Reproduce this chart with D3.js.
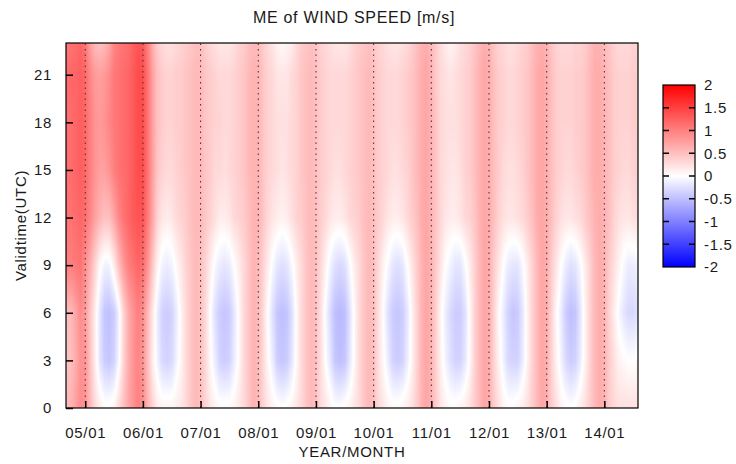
<!DOCTYPE html>
<html lang="en">
<head>
  <meta charset="UTF-8">
  <title>ME of WIND SPEED</title>
  <style>
    body { margin: 0; background: #fff; }
    text { font-family: "Liberation Sans", Arial, sans-serif; font-size: 15px; fill: #1a1a1a; letter-spacing: 0.7px; }
    .frame { fill: none; stroke: #000; stroke-width: 1.2px; }
    .grid { stroke: #333; stroke-width: 1px; stroke-dasharray: 1.5,4; }
    .tickmark { stroke: #000; stroke-width: 1.5px; }
  </style>
</head>
<body>
  <svg id="chart" width="736" height="464"></svg>

  <script src="https://d3js.org/d3.v7.min.js"></script>
  <script>
    // first column is 2004/09, last is 2014/08 (one value per month)
    const startYear = 2004, startMonth = 9;
    const hours = [0, 3, 6, 9, 12, 15, 18, 21, 23];

    // ME [m/s] per month, one array per validtime
    const me00 = [0.55, 0.6, 0.75, 0.9,
      0.85, 0.55, 0.3, 0.15, 0.05, 0.05, 0.1, 0.3, 0.5, 0.7, 0.85, 1.0,
      0.9, 0.6, 0.35, 0.15, 0.1, 0.1, 0.1, 0.15, 0.2, 0.3, 0.45, 0.55,
      0.5, 0.35, 0.2, 0.1, 0.05, 0.05, 0.05, 0.1, 0.2, 0.3, 0.45, 0.6,
      0.55, 0.35, 0.2, 0.1, 0.05, 0.0, 0.05, 0.1, 0.2, 0.3, 0.45, 0.55,
      0.5, 0.3, 0.2, 0.1, 0.0, 0.0, 0.05, 0.1, 0.2, 0.3, 0.45, 0.55,
      0.5, 0.3, 0.2, 0.1, 0.05, 0.05, 0.1, 0.15, 0.25, 0.4, 0.6, 0.7,
      0.6, 0.4, 0.2, 0.1, 0.05, 0.05, 0.1, 0.15, 0.25, 0.4, 0.55, 0.7,
      0.65, 0.4, 0.25, 0.1, 0.05, 0.05, 0.1, 0.15, 0.25, 0.4, 0.55, 0.7,
      0.65, 0.4, 0.25, 0.1, 0.05, 0.0, 0.05, 0.15, 0.25, 0.4, 0.55, 0.65,
      0.6, 0.4, 0.3, 0.25, 0.25, 0.25, 0.25, 0.25];
    const me03 = [0.45, 0.5, 0.65, 0.85,
      0.85, 0.5, 0.15, -0.2, -0.4, -0.45, -0.35, -0.05, 0.35, 0.65, 0.85, 0.95,
      0.85, 0.5, 0.15, -0.1, -0.3, -0.35, -0.3, -0.1, 0.1, 0.3, 0.45, 0.55,
      0.5, 0.3, 0.05, -0.15, -0.35, -0.4, -0.35, -0.15, 0.05, 0.3, 0.45, 0.6,
      0.55, 0.3, 0.05, -0.15, -0.4, -0.45, -0.4, -0.2, 0.05, 0.3, 0.45, 0.55,
      0.5, 0.25, 0.0, -0.2, -0.45, -0.5, -0.45, -0.2, 0.05, 0.3, 0.45, 0.55,
      0.5, 0.25, 0.05, -0.15, -0.35, -0.4, -0.35, -0.15, 0.1, 0.35, 0.6, 0.7,
      0.6, 0.35, 0.1, -0.1, -0.25, -0.35, -0.35, -0.2, 0.05, 0.35, 0.55, 0.7,
      0.65, 0.35, 0.1, -0.1, -0.3, -0.35, -0.35, -0.15, 0.1, 0.35, 0.55, 0.7,
      0.65, 0.35, 0.1, -0.1, -0.3, -0.4, -0.35, -0.15, 0.1, 0.35, 0.55, 0.65,
      0.6, 0.4, 0.25, 0.1, 0.05, 0.0, 0.0, 0.05];
    const me06 = [0.5, 0.55, 0.7, 0.9,
      0.8, 0.45, 0.15, -0.2, -0.45, -0.5, -0.4, -0.1, 0.35, 0.65, 0.85, 1.0,
      0.9, 0.55, 0.2, -0.15, -0.35, -0.4, -0.35, -0.15, 0.1, 0.3, 0.45, 0.55,
      0.5, 0.3, 0.0, -0.25, -0.4, -0.45, -0.4, -0.2, 0.05, 0.3, 0.45, 0.6,
      0.55, 0.3, 0.0, -0.25, -0.45, -0.5, -0.45, -0.25, 0.05, 0.3, 0.45, 0.55,
      0.5, 0.25, -0.05, -0.3, -0.5, -0.55, -0.5, -0.25, 0.05, 0.3, 0.45, 0.55,
      0.5, 0.25, 0.0, -0.25, -0.4, -0.45, -0.4, -0.2, 0.1, 0.35, 0.6, 0.7,
      0.6, 0.35, 0.05, -0.15, -0.3, -0.4, -0.4, -0.25, 0.05, 0.35, 0.55, 0.7,
      0.65, 0.35, 0.05, -0.15, -0.35, -0.45, -0.4, -0.2, 0.1, 0.35, 0.55, 0.7,
      0.65, 0.35, 0.05, -0.15, -0.4, -0.5, -0.45, -0.2, 0.1, 0.35, 0.55, 0.65,
      0.6, 0.35, 0.15, -0.05, -0.2, -0.3, -0.3, -0.25];
    const me09 = [1.0, 1.0, 1.05, 1.1,
      0.9, 0.65, 0.35, 0.05, -0.1, -0.1, 0.15, 0.5, 0.8, 1.0, 1.1, 1.2,
      1.15, 0.85, 0.45, 0.1, -0.1, -0.15, -0.1, 0.05, 0.2, 0.35, 0.45, 0.55,
      0.5, 0.35, 0.15, -0.05, -0.15, -0.2, -0.15, 0.0, 0.15, 0.3, 0.45, 0.6,
      0.55, 0.35, 0.15, -0.05, -0.2, -0.25, -0.2, -0.05, 0.15, 0.3, 0.45, 0.55,
      0.5, 0.3, 0.1, -0.1, -0.25, -0.3, -0.25, -0.05, 0.15, 0.3, 0.45, 0.55,
      0.5, 0.3, 0.1, -0.05, -0.2, -0.25, -0.2, 0.0, 0.2, 0.4, 0.6, 0.7,
      0.6, 0.4, 0.2, 0.0, -0.1, -0.2, -0.2, -0.05, 0.15, 0.35, 0.55, 0.7,
      0.65, 0.4, 0.2, 0.0, -0.15, -0.2, -0.2, -0.05, 0.15, 0.35, 0.55, 0.7,
      0.65, 0.4, 0.2, 0.0, -0.15, -0.25, -0.2, -0.05, 0.15, 0.35, 0.55, 0.65,
      0.6, 0.4, 0.25, 0.1, -0.05, -0.15, -0.15, -0.1];
    const me12 = [1.1, 1.1, 1.15, 1.2,
      1.15, 0.95, 0.75, 0.6, 0.5, 0.5, 0.7, 0.95, 1.1, 1.2, 1.3, 1.35,
      1.35, 1.05, 0.7, 0.35, 0.2, 0.15, 0.2, 0.3, 0.35, 0.4, 0.5, 0.55,
      0.55, 0.45, 0.35, 0.25, 0.15, 0.15, 0.2, 0.3, 0.35, 0.4, 0.5, 0.6,
      0.6, 0.45, 0.3, 0.2, 0.15, 0.1, 0.15, 0.25, 0.35, 0.4, 0.5, 0.55,
      0.5, 0.4, 0.3, 0.2, 0.15, 0.15, 0.2, 0.3, 0.35, 0.4, 0.5, 0.55,
      0.5, 0.4, 0.3, 0.2, 0.15, 0.15, 0.2, 0.3, 0.4, 0.5, 0.65, 0.7,
      0.6, 0.45, 0.3, 0.2, 0.15, 0.15, 0.2, 0.3, 0.35, 0.45, 0.6, 0.7,
      0.65, 0.5, 0.35, 0.25, 0.2, 0.2, 0.25, 0.3, 0.4, 0.5, 0.65, 0.7,
      0.65, 0.5, 0.35, 0.25, 0.2, 0.2, 0.25, 0.3, 0.4, 0.5, 0.6, 0.65,
      0.6, 0.5, 0.35, 0.25, 0.2, 0.2, 0.25, 0.3];
    const me15 = [1.1, 1.15, 1.2, 1.25,
      1.2, 1.0, 0.85, 0.75, 0.75, 0.85, 1.0, 1.1, 1.15, 1.2, 1.3, 1.4,
      1.4, 1.1, 0.75, 0.45, 0.35, 0.3, 0.3, 0.35, 0.4, 0.45, 0.5, 0.55,
      0.55, 0.45, 0.4, 0.3, 0.3, 0.25, 0.3, 0.35, 0.4, 0.45, 0.55, 0.6,
      0.6, 0.45, 0.35, 0.3, 0.25, 0.2, 0.25, 0.3, 0.35, 0.45, 0.5, 0.55,
      0.5, 0.4, 0.35, 0.3, 0.25, 0.25, 0.3, 0.35, 0.4, 0.45, 0.5, 0.55,
      0.5, 0.4, 0.35, 0.3, 0.25, 0.25, 0.3, 0.35, 0.45, 0.55, 0.65, 0.7,
      0.6, 0.45, 0.3, 0.25, 0.2, 0.2, 0.25, 0.35, 0.4, 0.5, 0.6, 0.7,
      0.65, 0.5, 0.4, 0.3, 0.25, 0.25, 0.3, 0.35, 0.45, 0.55, 0.65, 0.7,
      0.65, 0.5, 0.4, 0.35, 0.3, 0.3, 0.35, 0.4, 0.45, 0.55, 0.65, 0.65,
      0.6, 0.5, 0.4, 0.35, 0.3, 0.3, 0.35, 0.4];
    const me18 = [1.1, 1.15, 1.2, 1.25,
      1.2, 1.0, 0.85, 0.8, 0.85, 0.95, 1.05, 1.1, 1.15, 1.2, 1.3, 1.4,
      1.4, 1.1, 0.75, 0.5, 0.4, 0.35, 0.35, 0.4, 0.4, 0.45, 0.5, 0.55,
      0.55, 0.45, 0.4, 0.35, 0.35, 0.3, 0.3, 0.35, 0.4, 0.45, 0.55, 0.6,
      0.6, 0.45, 0.35, 0.3, 0.25, 0.25, 0.25, 0.3, 0.35, 0.45, 0.5, 0.55,
      0.5, 0.4, 0.35, 0.3, 0.3, 0.3, 0.3, 0.35, 0.4, 0.45, 0.5, 0.55,
      0.5, 0.4, 0.35, 0.3, 0.3, 0.3, 0.35, 0.4, 0.45, 0.55, 0.65, 0.7,
      0.6, 0.45, 0.3, 0.25, 0.25, 0.25, 0.3, 0.35, 0.4, 0.5, 0.6, 0.7,
      0.65, 0.5, 0.4, 0.35, 0.3, 0.3, 0.35, 0.4, 0.45, 0.55, 0.65, 0.7,
      0.65, 0.5, 0.4, 0.35, 0.35, 0.35, 0.4, 0.4, 0.45, 0.55, 0.65, 0.65,
      0.6, 0.5, 0.4, 0.35, 0.35, 0.35, 0.4, 0.4];
    const me21 = [1.15, 1.2, 1.2, 1.25,
      1.2, 0.95, 0.8, 0.75, 0.8, 0.9, 1.05, 1.1, 1.15, 1.2, 1.3, 1.4,
      1.4, 1.1, 0.75, 0.5, 0.4, 0.35, 0.35, 0.4, 0.4, 0.45, 0.5, 0.55,
      0.55, 0.45, 0.4, 0.35, 0.3, 0.3, 0.3, 0.35, 0.4, 0.45, 0.55, 0.6,
      0.6, 0.45, 0.35, 0.3, 0.2, 0.2, 0.2, 0.3, 0.35, 0.45, 0.5, 0.55,
      0.5, 0.4, 0.35, 0.3, 0.3, 0.3, 0.3, 0.35, 0.4, 0.45, 0.5, 0.55,
      0.5, 0.4, 0.35, 0.3, 0.3, 0.3, 0.35, 0.4, 0.45, 0.55, 0.65, 0.7,
      0.6, 0.4, 0.3, 0.25, 0.2, 0.25, 0.3, 0.35, 0.4, 0.5, 0.6, 0.7,
      0.65, 0.5, 0.4, 0.35, 0.3, 0.3, 0.35, 0.4, 0.45, 0.55, 0.65, 0.7,
      0.65, 0.5, 0.4, 0.35, 0.35, 0.35, 0.4, 0.4, 0.45, 0.55, 0.65, 0.65,
      0.6, 0.5, 0.4, 0.35, 0.35, 0.35, 0.4, 0.4];
    const me23 = [1.05, 1.1, 1.15, 1.2,
      1.1, 0.75, 0.55, 0.5, 0.55, 0.7, 0.95, 1.05, 1.1, 1.15, 1.25, 1.35,
      1.3, 1.0, 0.65, 0.4, 0.3, 0.25, 0.25, 0.3, 0.35, 0.4, 0.45, 0.5,
      0.5, 0.4, 0.3, 0.25, 0.2, 0.2, 0.2, 0.25, 0.35, 0.4, 0.5, 0.55,
      0.55, 0.4, 0.3, 0.2, 0.1, 0.05, 0.1, 0.15, 0.3, 0.4, 0.45, 0.5,
      0.45, 0.35, 0.3, 0.25, 0.2, 0.2, 0.2, 0.25, 0.35, 0.4, 0.45, 0.5,
      0.45, 0.35, 0.3, 0.25, 0.2, 0.2, 0.25, 0.3, 0.4, 0.5, 0.6, 0.65,
      0.55, 0.4, 0.25, 0.15, 0.1, 0.15, 0.25, 0.3, 0.35, 0.45, 0.55, 0.65,
      0.6, 0.45, 0.35, 0.3, 0.25, 0.25, 0.3, 0.35, 0.4, 0.5, 0.6, 0.65,
      0.6, 0.45, 0.35, 0.3, 0.3, 0.3, 0.35, 0.35, 0.4, 0.5, 0.6, 0.6,
      0.55, 0.45, 0.35, 0.3, 0.3, 0.3, 0.35, 0.35];
    const grid = [me00, me03, me06, me09, me12, me15, me18, me21, me23];

    const yearTicks = [2005, 2006, 2007, 2008, 2009, 2010, 2011, 2012, 2013, 2014];
    const hourTicks = [0, 3, 6, 9, 12, 15, 18, 21];
    const cbTicks = [-2, -1.5, -1, -0.5, 0, 0.5, 1, 1.5, 2];

    const svg = d3.select('#chart');
    const plotL = 66, plotR = 638, plotT = 43, plotB = 408;
    const nMonths = me00.length;

    const x = d3.scaleLinear().domain([0, nMonths - 1]).range([plotL, plotR]);
    const y = d3.scaleLinear().domain([0, 23]).range([plotB, plotT]);
    const color = d3.scaleLinear().domain([-2, 0, 2])
      .range(['#0000ff', '#ffffff', '#ff0000']).clamp(true);

    // bilinear interpolation between the monthly / 3-hourly grid points
    function valueAt(m, hr) {
      const i = Math.max(0, Math.min(nMonths - 2, Math.floor(m)));
      const fm = m - i;
      let j = d3.bisectRight(hours, hr) - 1;
      j = Math.max(0, Math.min(hours.length - 2, j));
      const fh = (hr - hours[j]) / (hours[j + 1] - hours[j]);
      const a = grid[j][i] * (1 - fm) + grid[j][i + 1] * fm;
      const b = grid[j + 1][i] * (1 - fm) + grid[j + 1][i + 1] * fm;
      return a * (1 - fh) + b * fh;
    }

    const pw = plotR - plotL, ph = plotB - plotT;
    const canvas = document.createElement('canvas');
    canvas.width = pw; canvas.height = ph;
    const ctx = canvas.getContext('2d');
    const img = ctx.createImageData(pw, ph);
    for (let py = 0; py < ph; py++) {
      const hv = y.invert(plotT + py + 0.5);
      for (let px = 0; px < pw; px++) {
        const c = d3.rgb(color(valueAt(x.invert(plotL + px + 0.5), hv)));
        const k = (py * pw + px) * 4;
        img.data[k] = c.r; img.data[k + 1] = c.g; img.data[k + 2] = c.b; img.data[k + 3] = 255;
      }
    }
    ctx.putImageData(img, 0, 0);
    svg.append('image')
      .attr('x', plotL).attr('y', plotT).attr('width', pw).attr('height', ph)
      .attr('href', canvas.toDataURL());

    const tickMonth = yr => (yr - startYear) * 12 + 1 - startMonth;

    // dotted year lines
    svg.append('g').selectAll('line')
      .data(yearTicks).enter().append('line')
      .attr('class', 'grid')
      .attr('x1', d => x(tickMonth(d))).attr('x2', d => x(tickMonth(d)))
      .attr('y1', plotB).attr('y2', plotT);

    // axes with inward ticks
    const xAxis = svg.append('g').attr('transform', `translate(0,${plotB})`)
      .call(d3.axisBottom(x).tickValues(yearTicks.map(tickMonth))
        .tickSize(-7).tickPadding(19)
        .tickFormat(m => String((startYear + Math.floor((m + startMonth - 1) / 12)) % 100).padStart(2, '0') + '/01'));
    const yAxis = svg.append('g').attr('transform', `translate(${plotL},0)`)
      .call(d3.axisLeft(y).tickValues(hourTicks).tickSize(-7).tickPadding(14));
    [xAxis, yAxis].forEach(g => {
      g.attr('font-family', null).attr('font-size', null);
      g.select('.domain').remove();
      g.selectAll('.tick line').attr('class', 'tickmark');
    });

    svg.append('rect').attr('class', 'frame')
      .attr('x', plotL).attr('y', plotT).attr('width', pw).attr('height', ph);

    // titles
    svg.append('text').attr('x', (plotL + plotR) / 2 + 2).attr('y', 23)
      .attr('text-anchor', 'middle').style('font-size', '16px').text('ME of WIND SPEED [m/s]');
    svg.append('text').attr('x', (plotL + plotR) / 2).attr('y', 457)
      .attr('text-anchor', 'middle').text('YEAR/MONTH');
    svg.append('text')
      .attr('transform', `translate(26,${(plotT + plotB) / 2}) rotate(-90)`)
      .attr('text-anchor', 'middle').text('Validtime(UTC)');

    // colour bar
    const cbX = 663, cbW = 32;
    const cb = d3.scaleLinear().domain([-2, 2]).range([267, 85]);
    const grad = svg.append('defs').append('linearGradient')
      .attr('id', 'cbgrad').attr('x1', 0).attr('y1', 1).attr('x2', 0).attr('y2', 0);
    grad.selectAll('stop').data(d3.range(-2, 2.01, 0.25)).enter().append('stop')
      .attr('offset', d => (d + 2) / 4).attr('stop-color', d => color(d));
    svg.append('rect').attr('x', cbX).attr('y', cb(2))
      .attr('width', cbW).attr('height', cb(-2) - cb(2)).attr('fill', 'url(#cbgrad)');
    const cbt = svg.append('g').selectAll('g').data(cbTicks).enter().append('g');
    cbt.filter(d => Math.abs(d) < 2).append('line').attr('class', 'tickmark')
      .attr('x1', cbX).attr('x2', cbX + 6).attr('y1', d => cb(d)).attr('y2', d => cb(d));
    cbt.filter(d => Math.abs(d) < 2).append('line').attr('class', 'tickmark')
      .attr('x1', cbX + cbW - 6).attr('x2', cbX + cbW).attr('y1', d => cb(d)).attr('y2', d => cb(d));
    cbt.append('text').attr('x', cbX + cbW + 9).attr('y', d => cb(d)).attr('dy', '0.35em')
      .text(d => d);
    svg.append('rect').attr('class', 'frame').attr('x', cbX).attr('y', cb(2))
      .attr('width', cbW).attr('height', cb(-2) - cb(2));
  </script>
</body>
</html>
